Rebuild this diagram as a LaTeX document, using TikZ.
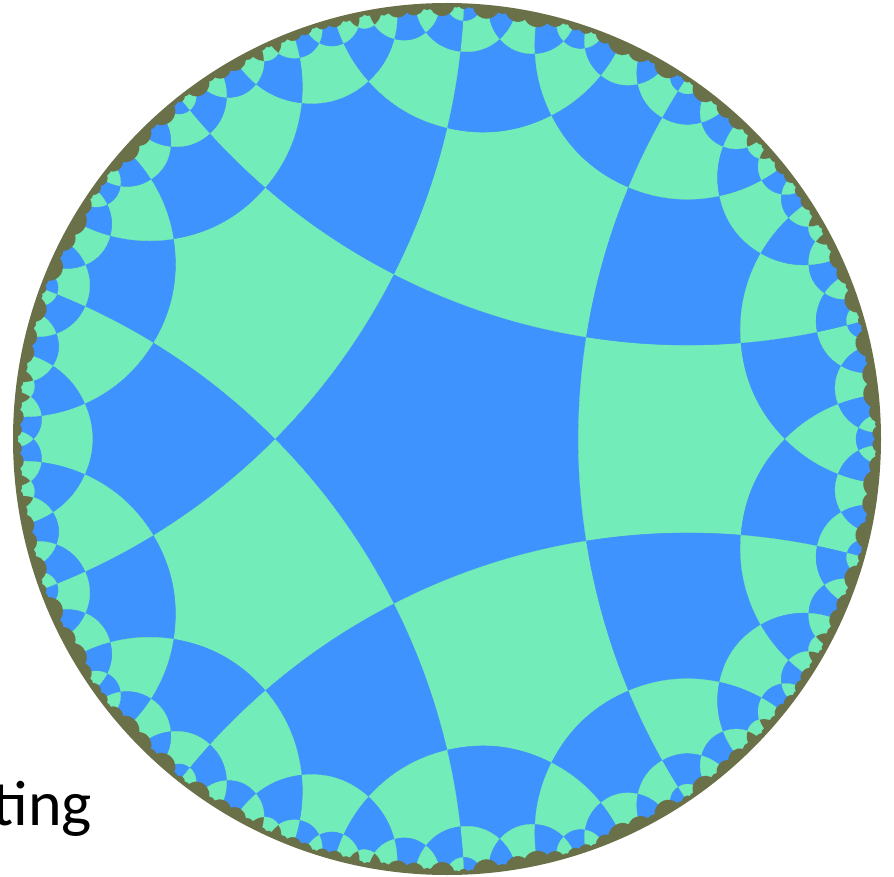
\documentclass[tikz,border=0pt]{standalone}
\usepackage{fontspec}
\setmainfont{Carlito}
\usepackage{tikz}
\definecolor{tlblue}{HTML}{3F93FF}
\definecolor{tlgreen}{HTML}{72ECB8}
\definecolor{tlolive}{HTML}{6A7048}
\tikzset{
  tltile0/.style={fill=tlblue, draw=tlblue, line width=0.3pt, line join=round},
  tltile1/.style={fill=tlgreen, draw=tlgreen, line width=0.3pt, line join=round},
  tlrim/.style={fill=tlolive},
  tlword/.style={font=\fontsize{64}{70}\selectfont, text=black, inner sep=0pt}
}
\newcount\tlhead
\newcount\tltail
\def\tlmaxlayer{5}
\def\tlmaxradius{0.982}
\def\tlX#1{\fpeval{round(447+433*(#1),3)}}
\def\tlY#1{\fpeval{round(439+436*(#1),3)}}
\def\tlvx#1#2{\csname tlx@#1@#2\endcsname}
\def\tlvy#1#2{\csname tly@#1@#2\endcsname}
% circle orthogonal to the unit circle through two points
\newcommand{\tlmirror}[4]{%
  \edef\tlA{\fpeval{(1+(#1)^2+(#2)^2)/2}}%
  \edef\tlB{\fpeval{(1+(#3)^2+(#4)^2)/2}}%
  \edef\tldet{\fpeval{(#1)*(#4)-(#2)*(#3)}}%
  \edef\tlcx{\fpeval{(\tlA*(#4)-\tlB*(#2))/\tldet}}%
  \edef\tlcy{\fpeval{((#1)*\tlB-(#3)*\tlA)/\tldet}}%
  \edef\tlrr{\fpeval{(\tlcx)^2+(\tlcy)^2-1}}}
% one tile: draw it, then queue its neighbours
\newcommand{\tlstep}{%
  \edef\tln{\the\tlhead}%
  \edef\tllayer{\csname tll@\tln\endcsname}%
  \xdef\tlpath{(\tlX{\tlvx{\tln}{0}},\tlY{\tlvy{\tln}{0}})}%
  \foreach \tli in {0,...,4}{%
    \pgfmathtruncatemacro{\tlj}{mod(\tli+1,5)}%
    \edef\tlax{\tlvx{\tln}{\tli}}\edef\tlay{\tlvy{\tln}{\tli}}%
    \edef\tlbx{\tlvx{\tln}{\tlj}}\edef\tlby{\tlvy{\tln}{\tlj}}%
    \tlmirror{\tlax}{\tlay}{\tlbx}{\tlby}%
    \edef\tlmx{\fpeval{(\tlax+\tlbx)/2-\tlcx}}%
    \edef\tlmy{\fpeval{(\tlay+\tlby)/2-\tlcy}}%
    \edef\tls{\fpeval{\tlrr/((\tlmx)^2+(\tlmy)^2)}}%
    \edef\tlqx{\fpeval{\tlcx+\tls*\tlmx}}%
    \edef\tlqy{\fpeval{\tlcy+\tls*\tlmy}}%
    \xdef\tlpath{\tlpath .. controls
      (\tlX{\tlax+2/3*(\tlqx-\tlax)},\tlY{\tlay+2/3*(\tlqy-\tlay)}) and
      (\tlX{\tlbx+2/3*(\tlqx-\tlbx)},\tlY{\tlby+2/3*(\tlqy-\tlby)}) ..
      (\tlX{\tlbx},\tlY{\tlby})}%
    \ifnum\tllayer<\tlmaxlayer\relax
      \gdef\tlsx{0}\gdef\tlsy{0}%
      \edef\tlnew{\the\tltail}%
      \foreach \tlk in {0,...,4}{%
        \edef\tlpx{\fpeval{\tlvx{\tln}{\tlk}-\tlcx}}%
        \edef\tlpy{\fpeval{\tlvy{\tln}{\tlk}-\tlcy}}%
        \edef\tls{\fpeval{\tlrr/((\tlpx)^2+(\tlpy)^2)}}%
        \expandafter\xdef\csname tlx@\tlnew @\tlk\endcsname{\fpeval{\tlcx+\tls*\tlpx}}%
        \expandafter\xdef\csname tly@\tlnew @\tlk\endcsname{\fpeval{\tlcy+\tls*\tlpy}}%
        \xdef\tlsx{\fpeval{\tlsx+\tlvx{\tlnew}{\tlk}}}%
        \xdef\tlsy{\fpeval{\tlsy+\tlvy{\tlnew}{\tlk}}}%
      }%
      \edef\tlkey{\fpeval{round(\tlsx+9,5)}:\fpeval{round(\tlsy+9,5)}}%
      \expandafter\ifx\csname tlseen@\tlkey\endcsname\relax
        \expandafter\gdef\csname tlseen@\tlkey\endcsname{1}%
        \expandafter\xdef\csname tll@\tlnew\endcsname{\the\numexpr\tllayer+1\relax}%
        \expandafter\xdef\csname tlr@\tlnew\endcsname{\fpeval{sqrt((\tlsx)^2+(\tlsy)^2)/5}}%
        \global\advance\tltail by 1
      \fi
    \fi
  }%
  \ifodd\tllayer\def\tlcolor{1}\else\def\tlcolor{0}\fi
  % tiles too near the rim are left out, the olive disc shows there
  \ifdim\csname tlr@\tln\endcsname pt<\tlmaxradius pt
    \edef\tlcmd{\noexpand\draw[tltile\tlcolor] \tlpath -- cycle;}%
    \tlcmd
  \fi}
\begin{document}
\begin{tikzpicture}[x=1pt, y=-1pt]
  \useasboundingbox (0,0) rectangle (894,877);
  \node[tlword, anchor=base east] (tlting) at (92,825) {ting};
  \fill[tlrim] (447,439) ellipse [x radius=434pt, y radius=436pt];
  % central pentagon, one corner pointing left
  \edef\tlvr{\fpeval{sqrt((cot(pi/5)-1)/(cot(pi/5)+1))}}
  \foreach \tlk in {0,...,4}{
    \expandafter\xdef\csname tlx@0@\tlk\endcsname{\fpeval{\tlvr*cosd(180+72*\tlk)}}
    \expandafter\xdef\csname tly@0@\tlk\endcsname{\fpeval{\tlvr*sind(180+72*\tlk)}}
  }
  \expandafter\gdef\csname tll@0\endcsname{0}
  \expandafter\gdef\csname tlr@0\endcsname{0}
  \expandafter\gdef\csname tlseen@\fpeval{round(9,5)}:\fpeval{round(9,5)}\endcsname{1}
  \global\tlhead=0
  \global\tltail=1
  \loop\ifnum\tlhead<\tltail
    \tlstep
    \global\advance\tlhead by 1
  \repeat
\end{tikzpicture}
\end{document}
